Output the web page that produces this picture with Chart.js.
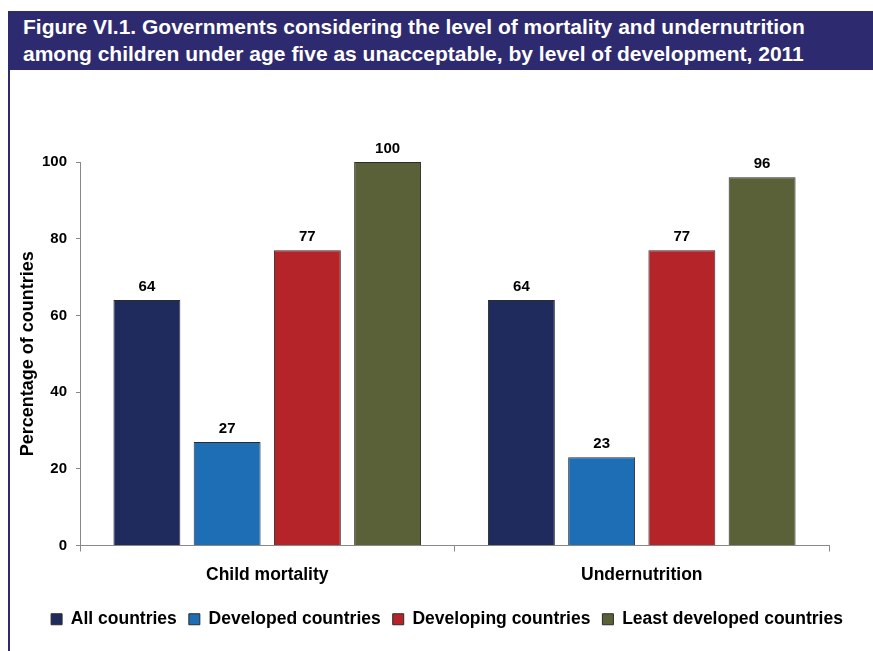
<!DOCTYPE html>
<html>
<head>
<meta charset="utf-8">
<script src="https://cdn.jsdelivr.net/npm/chart.js@4.4.1/dist/chart.umd.min.js"></script>
<style>
    html, body { margin: 0; padding: 0; background: #fff; }
    body { width: 873px; height: 651px; position: relative; overflow: hidden; font-family: Arial, "Liberation Sans", sans-serif; }
    #banner {
        position: absolute; left: 8px; top: 11px; width: 865px; height: 59px;
        background: #2e2a70; color: #fff; font-weight: bold; font-size: 21px;
        line-height: 27px; box-sizing: border-box; padding: 2px 0 0 15px; white-space: nowrap;
    }
    #frame { position: absolute; left: 8px; top: 70px; width: 865px; height: 581px; border-left: 2px solid #2e2a70; box-sizing: border-box; }
    #wrap { position: absolute; left: 10px; top: 70px; width: 874px; height: 581px; }
</style>
</head>
<body>
<div id="banner">Figure VI.1. Governments considering the level of mortality and undernutrition<br>among children under age five as unacceptable, by level of development, 2011</div>
<div id="frame"></div>
<div id="wrap"><canvas id="c1"></canvas></div>

<script>
const cats = ["Child mortality", "Undernutrition"];
const allC = [64, 64];
const developed = [27, 23];
const developing = [77, 77];
const leastDev = [100, 96];
const yTicks = [0, 20, 40, 60, 80, 100];

const FONT = "Arial, 'Liberation Sans', sans-serif";
Chart.defaults.font.family = FONT;
Chart.defaults.color = '#000';

function ds(label, data, color) {
    return {
        label: label,
        data: data,
        backgroundColor: color,
        borderColor: '#2b2b2b',
        borderWidth: 1,
        categoryPercentage: 0.857,
        barPercentage: 0.834
    };
}

// value labels above each bar
const valLabels = {
    id: 'valLabels',
    afterDatasetsDraw(chart) {
        const ctx = chart.ctx;
        ctx.save();
        ctx.font = 'bold 15px ' + FONT;
        ctx.fillStyle = '#000';
        ctx.textAlign = 'center';
        ctx.textBaseline = 'middle';
        chart.data.datasets.forEach((d, i) => {
            chart.getDatasetMeta(i).data.forEach((bar, j) => {
                ctx.fillText(d.data[j], bar.x, bar.y - 13);
            });
        });
        ctx.restore();
    }
};

new Chart(document.getElementById('c1'), {
    type: 'bar',
    data: {
        labels: cats,
        datasets: [
            ds('All countries', allC, '#1f2b5c'),
            ds('Developed countries', developed, '#1e6eb6'),
            ds('Developing countries', developing, '#b42428'),
            ds('Least developed countries', leastDev, '#5a6139')
        ]
    },
    options: {
        responsive: true,
        maintainAspectRatio: false,
        animation: false,
        layout: { padding: { top: 92, right: 0, bottom: 13, left: 0 } },
        plugins: {
            tooltip: { enabled: false },
            legend: {
                position: 'bottom',
                labels: {
                    boxWidth: 11, boxHeight: 11, padding: 12,
                    color: '#000',
                    font: { size: 17.5, weight: 'bold' }
                }
            }
        },
        scales: {
            x: {
                grid: { display: true, drawOnChartArea: false, offset: true, tickLength: 6, color: '#888' },
                border: { color: '#888' },
                ticks: { padding: 13, font: { size: 17.5, weight: 'bold' }, color: '#000' },
                afterFit: s => { s.height = 53; }
            },
            y: {
                min: 0, max: 100,
                afterBuildTicks: s => { s.ticks = yTicks.map(v => ({ value: v })); },
                grid: { display: true, drawOnChartArea: false, tickLength: 4, color: '#888' },
                border: { color: '#888' },
                ticks: { padding: 9, font: { size: 15, weight: 'bold' }, color: '#000' },
                title: { display: true, text: 'Percentage of countries', font: { size: 18, weight: 'bold' }, color: '#000', padding: 7 },
                afterFit: s => { s.width = 70; }
            },
            // empty right-hand axis, keeps the plot at the right width and centres the legend
            pad: {
                position: 'right',
                grid: { display: false },
                border: { display: false },
                ticks: { display: false },
                afterFit: s => { s.width = 55; }
            }
        }
    },
    plugins: [valLabels]
});
</script>
</body>
</html>
